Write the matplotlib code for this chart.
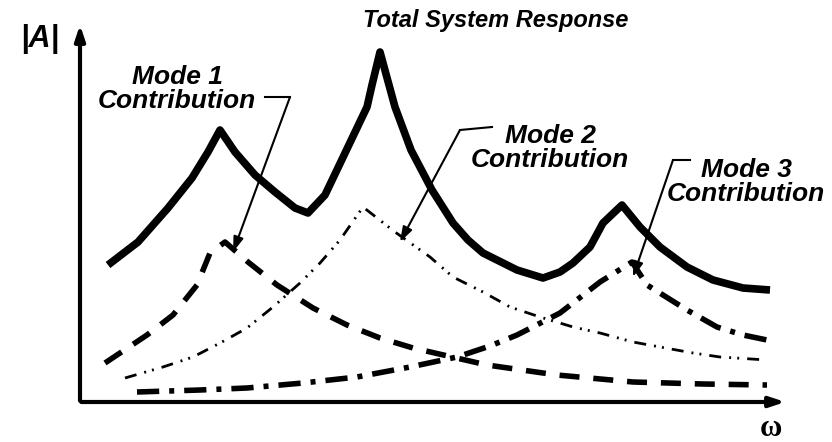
import matplotlib.pyplot as plt
from matplotlib import rcParams

rcParams['font.family'] = ['Liberation Sans', 'DejaVu Sans']

# values (omega and |A| in arbitrary units)
w_total = [2.8, 5.8, 8.8, 11.2, 12.8, 14.0, 15.5, 17.5, 19.5, 21.5, 22.8, 24.5, 26.6,
           28.7, 29.2, 30.0, 31.5, 33.1, 35.2, 37.3, 38.8, 40.3, 43.7, 46.3, 48.0,
           49.3, 51.0, 52.3, 54.2, 56.0, 58.0, 60.7, 63.3, 66.3, 69.0]
a_total = [13.7, 16.0, 19.4, 22.4, 25.0, 27.2, 25.0, 22.7, 21.0, 19.4, 18.9, 20.7, 25.1,
           29.5, 31.7, 35.0, 29.5, 25.2, 21.2, 17.9, 16.2, 14.9, 13.2, 12.4, 13.0,
           13.9, 15.5, 17.9, 19.7, 17.5, 15.5, 13.5, 12.2, 11.4, 11.2]

w_mode1 = [2.5, 6.7, 9.3, 11.7, 13.0, 14.5, 16.8, 19.7, 23.3, 26.7, 30.0, 33.3,
           40.7, 47.7, 55.3, 62.3, 68.7]
a_mode1 = [3.9, 6.7, 8.7, 11.7, 14.9, 16.0, 14.0, 11.7, 9.4, 7.7, 6.4, 5.4,
           3.7, 2.7, 2.0, 1.8, 1.7]

w_mode2 = [4.5, 8.3, 11.3, 14.2, 16.7, 19.3, 22.0, 24.0, 26.0, 28.3, 31.5, 35.0,
           37.3, 40.3, 43.0, 46.0, 49.3, 52.0, 55.3, 58.0, 61.3, 64.0, 68.7]
a_mode2 = [2.4, 3.5, 4.5, 6.0, 7.4, 9.5, 11.9, 13.9, 16.2, 19.5, 17.0, 14.5,
           12.5, 11.0, 9.5, 8.5, 7.5, 6.9, 6.0, 5.5, 4.9, 4.5, 4.2]

w_mode3 = [5.7, 12.0, 16.7, 22.3, 27.7, 33.0, 37.7, 41.0, 43.7, 48.0, 52.0, 55.2,
           56.7, 60.7, 63.7, 66.3, 68.7]
a_mode3 = [1.0, 1.2, 1.4, 1.9, 2.5, 3.5, 4.5, 5.6, 6.7, 8.9, 12.0, 14.0,
           11.7, 9.2, 7.5, 6.7, 6.2]

fig = plt.figure(figsize=(8.32, 4.42), dpi=100)
ax = fig.add_axes([0, 0, 1, 1])
ax.set_xlim(-8, 75.2)
ax.set_ylim(-4, 40.2)
ax.axis('off')

# axes with arrows
ax.annotate('', xy=(70.8, 0), xytext=(-0.15, 0),
            arrowprops=dict(arrowstyle='-|>,head_length=0.9,head_width=0.3', lw=3, color='black'))
ax.annotate('', xy=(0, 38), xytext=(0, -0.15),
            arrowprops=dict(arrowstyle='-|>,head_length=0.9,head_width=0.3', lw=3, color='black'))

ax.plot(w_total, a_total, color='black', lw=5.5, solid_joinstyle='round', solid_capstyle='butt')
ax.plot(w_mode1, a_mode1, color='black', lw=4, linestyle=(0, (3.6, 2.5)))
ax.plot(w_mode2, a_mode2, color='black', lw=2, linestyle=(0, (4.3, 2.9, 0.7, 2.2, 0.7, 2.9)))
ax.plot(w_mode3, a_mode3, color='black', lw=4, linestyle=(0, (4.0, 1.8, 0.9, 1.8)))

lbl = dict(fontsize=19, fontweight='bold', fontstyle='italic', ha='center', va='center',
           ma='center', linespacing=1.05)
ax.text(41.6, 38.1, 'Total System Response', fontsize=17, fontweight='bold',
        fontstyle='italic', ha='center', va='center')
ax.text(9.7, 31.3, 'Mode 1\nContribution', **lbl)
ax.text(47.0, 25.4, 'Mode 2\nContribution', **lbl)
ax.text(66.6, 22.0, 'Mode 3\nContribution', **lbl)

ax.text(-4.0, 36.3, '|A|', fontsize=22, fontweight='bold', fontstyle='italic',
        ha='center', va='center')
ax.text(69.1, -2.6, 'ω', fontsize=22, fontweight='bold', family='Liberation Serif',
        ha='center', va='center')

# leader arrows
arr = dict(arrowstyle='-|>,head_length=0.9,head_width=0.3', lw=1.5, color='black',
           shrinkA=0, shrinkB=0)
ax.plot([18.5, 21.0], [30.5, 30.5], color='black', lw=1.5)
ax.annotate('', xy=(15.3, 15.0), xytext=(21.0, 30.5), arrowprops=arr)
ax.plot([41.2, 38.0], [27.5, 27.2], color='black', lw=1.5)
ax.annotate('', xy=(32.0, 16.0), xytext=(38.0, 27.2), arrowprops=arr)
ax.plot([61.0, 59.3], [24.2, 24.2], color='black', lw=1.5)
ax.annotate('', xy=(55.3, 12.5), xytext=(59.3, 24.2), arrowprops=arr)

fig.savefig('out.png', dpi=100)
